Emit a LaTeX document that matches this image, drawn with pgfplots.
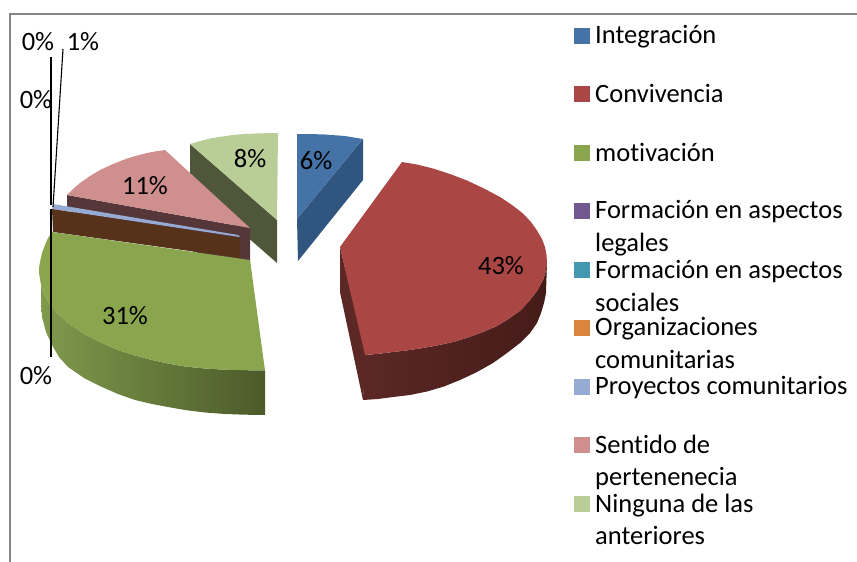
\documentclass[border=0pt]{standalone}
\usepackage{fontspec}
\setmainfont{Carlito}[Ligatures=NoCommon]
\usepackage{pgfplots}
\pgfplotsset{compat=1.18}
\definecolor{bT}{HTML}{4573A7}\definecolor{bS}{HTML}{30557F}
\definecolor{rT}{HTML}{AA4644}\definecolor{rSa}{HTML}{5B2826}\definecolor{rSb}{HTML}{451B18}
\definecolor{gT}{HTML}{89A54E}\definecolor{gSa}{HTML}{7E9A4C}\definecolor{gSb}{HTML}{4C5A2A}
\definecolor{pT}{HTML}{CF8F8E}\definecolor{pS}{HTML}{55373A}
\definecolor{lT}{HTML}{B9CD96}\definecolor{lS}{HTML}{4F5639}
\definecolor{brown}{HTML}{57321A}\definecolor{sky}{HTML}{95ABD3}
\definecolor{purp}{HTML}{71588F}\definecolor{teal2}{HTML}{4298AF}\definecolor{oran}{HTML}{DB843D}
\definecolor{frame}{HTML}{868686}
\newcommand{\lab}[3]{\node[anchor=base west,inner sep=0pt] at (axis cs:#1,#2) {#3};}
\newcommand{\cen}[3]{\node[anchor=center,inner sep=0pt] at (axis cs:#1,#2) {#3};}
\pgfplotsset{key/.style={only marks,mark=square*,mark size=7.3pt,color=#1,mark options={line width=0.3pt,solid}}}
\begin{document}
\begin{tikzpicture}[x=1pt,y=1pt]
\path[use as bounding box] (0,0) rectangle (857,562);
\begin{axis}[at={(0,0)},anchor=south west,scale only axis,width=857pt,height=562pt,
  xmin=0,xmax=857,ymin=0,ymax=562,y dir=reverse,hide axis,clip=false,
  font=\fontsize{26.5}{28}\selectfont]
% frame
\addplot[frame,line width=1.5pt] coordinates {(857,14) (10,14) (10,562)};
% blue slice
\addplot[draw=none,fill=bS] coordinates {(363,139) (363,180) (298,261) (297,219)} -- cycle;
\addplot[draw=none,fill=bT] coordinates {(297,134) (310,134) (325,134.5) (345,136) (363,139) (297,219)} -- cycle;
% red slice
\addplot[draw=none,fill=rSa] coordinates {(340,247) (366,355) (363,400) (340,292)} -- cycle;
\addplot[draw=none,left color=rSa,middle color=rSb,right color=rSb] coordinates {(547,262) (545,274) (543,280) (537,291) (530,300) (521,310) (510,318) (497,326) (483,332) (468,337.5) (453,342) (437,345.5) (420,348.5) (406,350.5) (393,352) (379,353.7) (365,355) (363,400) (378,399) (393,397) (410,395) (427,391.5) (444,386.5) (460,380) (477,372) (493,363) (507,353) (520,343) (530,333) (537,323) (541,313) (544,303) (546,293)} -- cycle;
\addplot[draw=none,fill=rT] coordinates {(402,162) (417,164.5) (433,168.5) (450,174) (467,180.5) (484,188.5) (500,197) (512,205) (523,213.5) (531,222) (537,230.5) (542,239) (545,247) (546.5,255) (547,262) (546.5,268) (545,274) (543,280) (537,291) (530,300) (521,310) (510,318) (497,326) (483,332) (468,337.5) (453,342) (437,345.5) (420,348.5) (406,350.5) (393,352) (379,353.7) (365,355) (340,247)} -- cycle;
% light green slice
\addplot[draw=none,fill=lS] coordinates {(190,144) (277,220) (277,263) (190,187)} -- cycle;
\addplot[draw=none,fill=lT] coordinates {(190,144) (200,141) (210,138.5) (222,136.5) (233,135) (245,134) (255,133.5) (267,133.2) (278,133) (277,220)} -- cycle;
% pink slice
\addplot[draw=none,fill=pS] coordinates {(67,195) (250,228) (250,270) (67,210)} -- cycle;
\addplot[draw=none,fill=pT] coordinates {(67,195) (73,189) (80,183) (90,176) (100,170) (113,164) (127,158.5) (137,155.5) (147,153) (156,151.3) (165,150) (250,228)} -- cycle;
% sliver and brown
\addplot[draw=none,fill=sky] coordinates {(53,204) (59,205) (238,235) (240,237) (52,209)} -- cycle;
\addplot[draw=none,fill=brown] coordinates {(52,209) (240,238) (240,258) (53,232)} -- cycle;
% green slice
\addplot[draw=none,left color=gSa,right color=gSb] coordinates {(41,285) (45,296) (50,305) (58,314) (68,323) (84,334) (102,343) (118,350) (135,355.5) (152,360) (168,363.5) (185,366.5) (205,368.5) (225,369.7) (245,370.2) (265,370.5) (265,415) (245,414.7) (225,414) (205,412.5) (185,410) (168,407) (152,404) (135,400) (118,394) (102,387) (84,378) (68,367) (59,357) (52,345) (46,332) (42,317) (41,300)} -- cycle;
\addplot[draw=none,fill=gT] coordinates {(52,232) (250,260) (265,370.5) (245,370.2) (225,369.7) (205,368.5) (185,366.5) (168,363.5) (152,360) (135,355.5) (118,350) (102,343) (84,334) (68,323) (58,314) (50,305) (45,296) (41,285) (40,279) (39,273) (39,268) (40,262) (42,253) (45,245) (48,238)} -- cycle;
% leader lines
\addplot[black,line width=1.1pt] coordinates {(51,57) (51,205)};
\addplot[black,line width=1.1pt] coordinates {(63,49) (53,207)};
\addplot[black,line width=2pt] coordinates {(51,113) (51,205)};
\addplot[black,line width=1.4pt] coordinates {(51,209) (51,357)};
% data labels
\cen{38}{42}{0\%}\cen{83}{42}{1\%}\cen{36}{100}{0\%}\cen{36}{376}{0\%}
\cen{316}{161}{6\%}\cen{501}{266}{43\%}\cen{125}{316}{31\%}\cen{145}{186}{11\%}\cen{250}{159}{8\%}
% legend keys
\addplot[key=bT] coordinates {(581.5,35.5)};
\addplot[key=rT] coordinates {(581.5,93.5)};
\addplot[key=gT] coordinates {(581.5,152.5)};
\addplot[key=purp] coordinates {(581.5,210.5)};
\addplot[key=teal2] coordinates {(581.5,269.5)};
\addplot[key=oran] coordinates {(581.5,327.5)};
\addplot[key=sky] coordinates {(581.5,386.5)};
\addplot[key=pT] coordinates {(581.5,444.5)};
\addplot[key=lT] coordinates {(581.5,503.5)};
% legend text
\lab{595}{43}{Integración}
\lab{595}{102}{Convivencia}
\lab{595}{161}{motivación}
\lab{595}{218}{Formación en aspectos}
\lab{595}{251}{legales}
\lab{595}{278}{Formación en aspectos}
\lab{595}{311}{sociales}
\lab{595}{335}{Organizaciones}
\lab{595}{368}{comunitarias}
\lab{595}{394}{Proyectos comunitarios}
\lab{595}{453}{Sentido de}
\lab{595}{485}{pertenenecia}
\lab{595}{512}{Ninguna de las}
\lab{595}{544}{anteriores}
\end{axis}
\end{tikzpicture}
\end{document}
